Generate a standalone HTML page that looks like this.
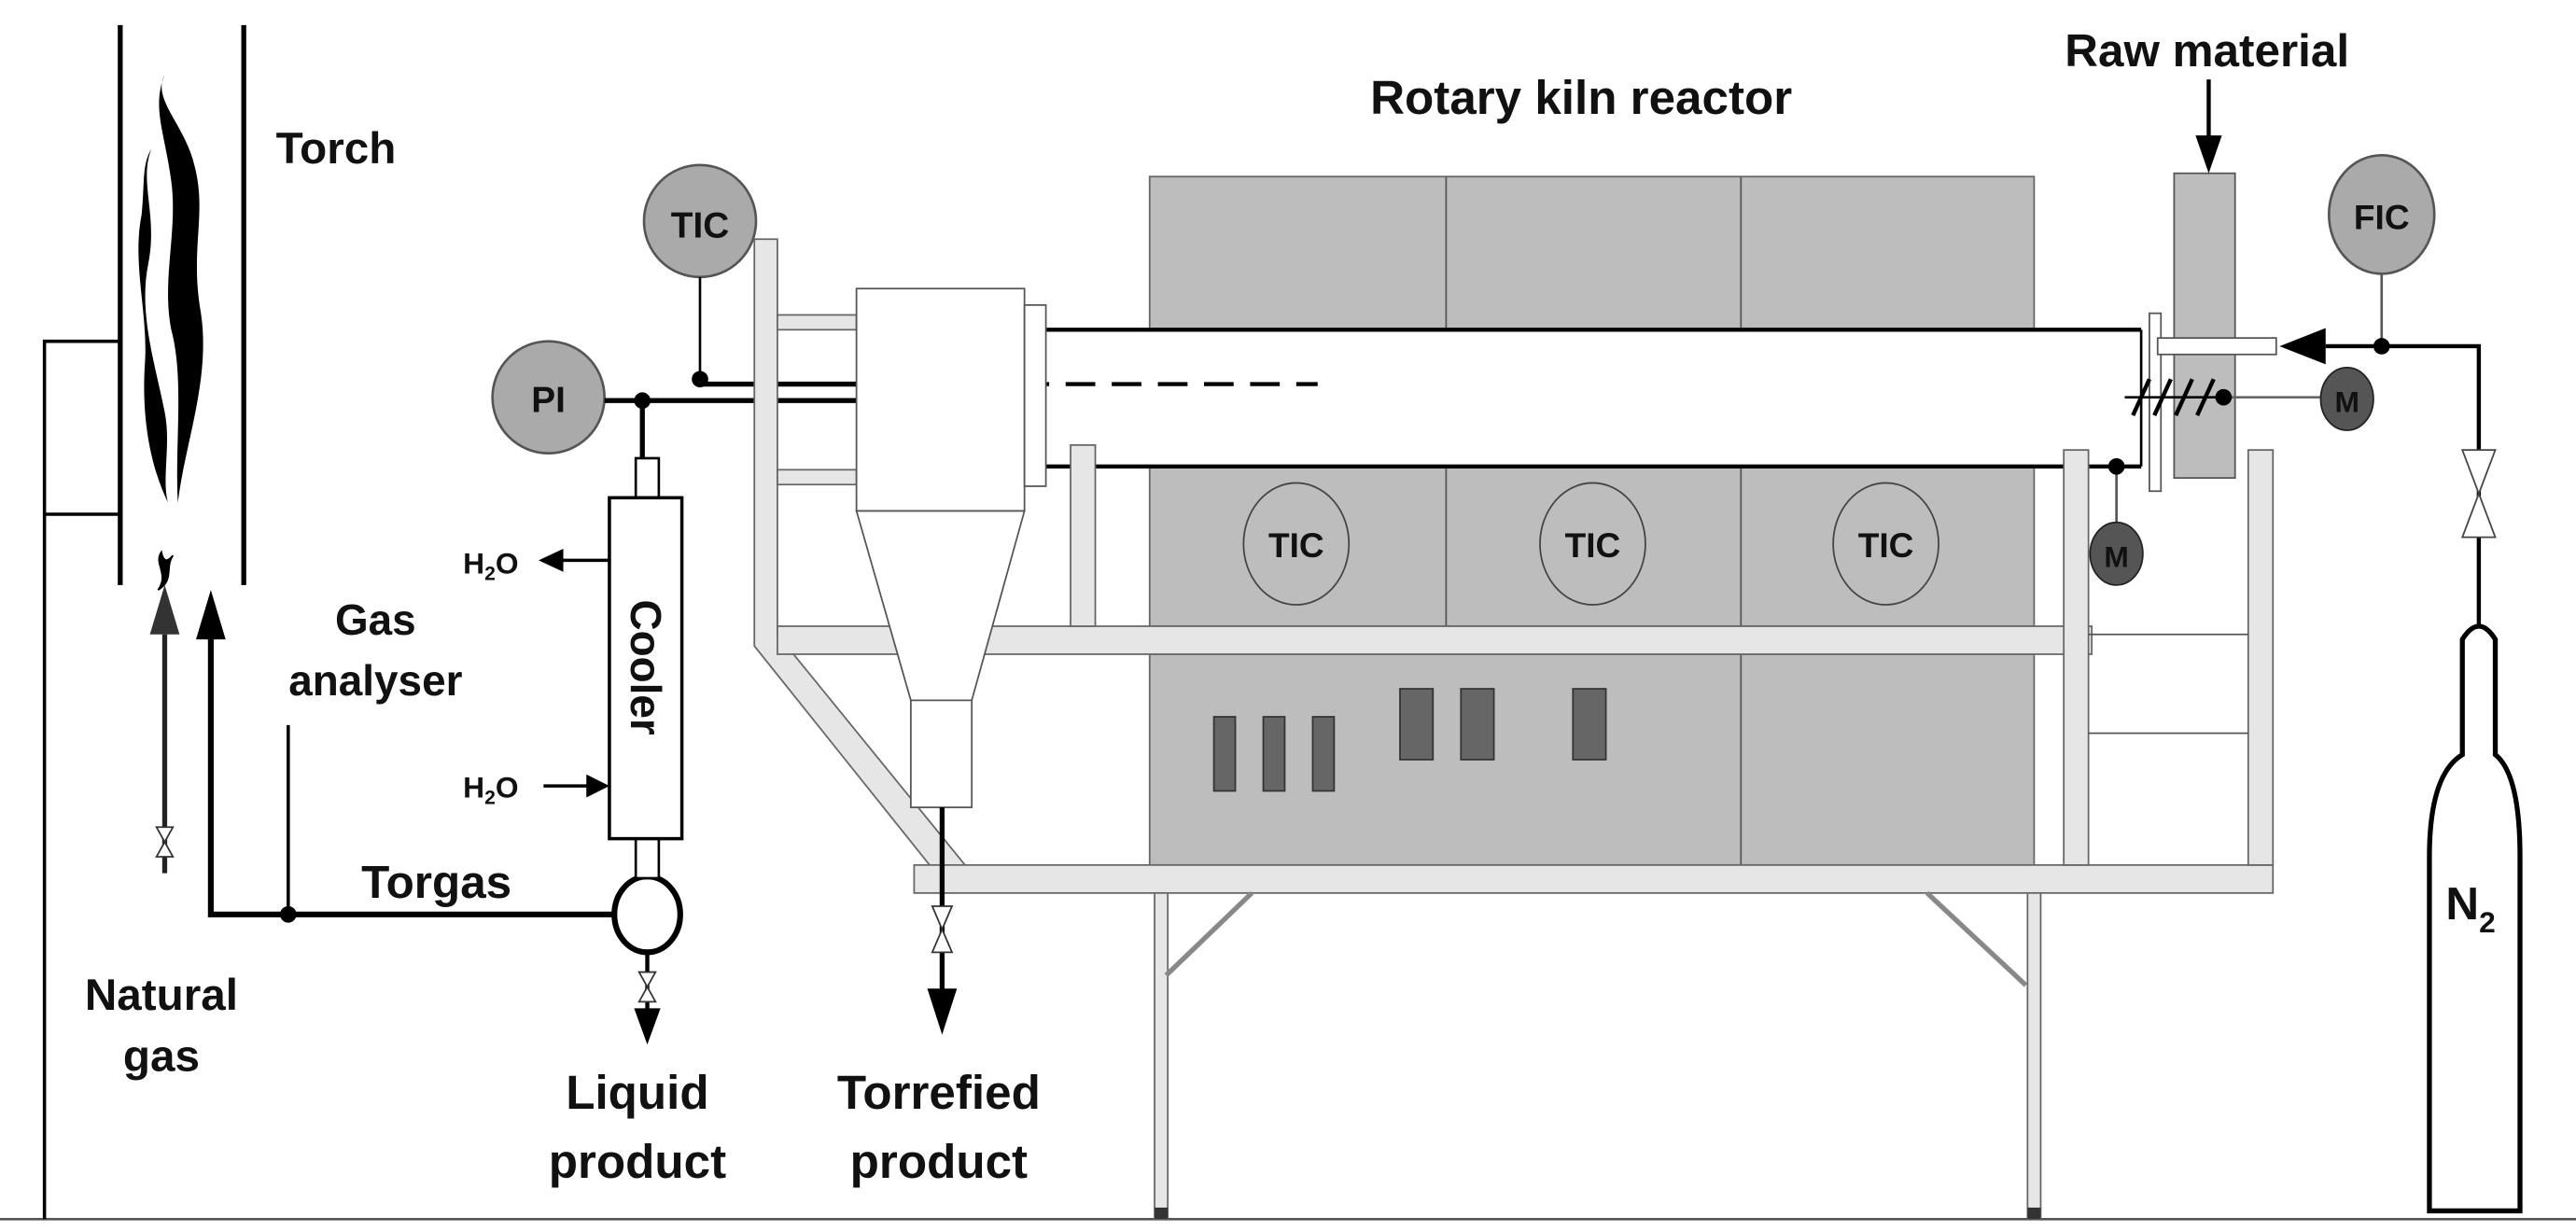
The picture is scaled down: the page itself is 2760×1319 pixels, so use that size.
<!DOCTYPE html>
<html><head><meta charset="utf-8"><style>
html,body{margin:0;padding:0;background:#fff;}
svg{display:block;}
text{font-family:"Liberation Sans",sans-serif;font-weight:bold;fill:#111;}
</style></head><body>
<svg width="2760" height="1319" viewBox="0 0 1564 747" xmlns="http://www.w3.org/2000/svg">
<!-- ground -->
<line x1="0" y1="740" x2="1564" y2="740" stroke="#555" stroke-width="1.5"/>
<!-- torch -->
<line x1="73" y1="15" x2="73" y2="355" stroke="#000" stroke-width="3"/>
<line x1="148" y1="15" x2="148" y2="355" stroke="#000" stroke-width="3"/>
<path d="M27,740 V207 H73 M27,312 H73" fill="none" stroke="#000" stroke-width="2"/>
<!-- flame -->
<path d="M100,45 C92,60 112,75 118,100 C126,130 115,150 122,190 C128,230 112,270 108,305 C106,270 112,230 104,200 C98,170 108,140 104,110 C100,80 92,65 100,45 Z" fill="#000"/>
<path d="M92,90 C84,110 96,130 90,160 C84,190 94,220 100,250 C104,270 98,290 102,305 C90,280 86,250 88,220 C90,190 80,160 86,130 C88,110 86,100 92,90 Z" fill="#000"/>
<path d="M108,110 C116,130 110,160 116,190 C120,210 112,240 114,260 C106,240 110,210 106,190 C102,160 110,140 108,110 Z" fill="#000"/>
<path d="M98,335 C93,342 103,348 96,358 C106,352 100,344 105,337 C101,342 99,340 98,335 Z" fill="#000" stroke="#000" stroke-width="1"/>
<!-- natural gas -->
<line x1="100" y1="530" x2="100" y2="385" stroke="#222" stroke-width="3"/>
<path d="M91,385 L100,355 L109,385 Z" fill="#333"/>
<path d="M95,502 L105,502 L95,520 L105,520 Z" fill="#fff" stroke="#333" stroke-width="1"/>
<text x="98" y="613" font-size="27" text-anchor="middle">Natural</text>
<text x="98" y="650" font-size="27" text-anchor="middle">gas</text>
<!-- gas analyser -->
<path d="M373,555 H128 V385" fill="none" stroke="#000" stroke-width="3.5"/>
<path d="M119,388 L128,358 L137,388 Z" fill="#000"/>
<line x1="175" y1="440" x2="175" y2="555" stroke="#000" stroke-width="2"/>
<circle cx="175" cy="555" r="5" fill="#000"/>
<text x="228" y="385" font-size="26" text-anchor="middle">Gas</text>
<text x="228" y="422" font-size="26" text-anchor="middle">analyser</text>
<text x="265" y="545" font-size="28" text-anchor="middle">Torgas</text>
<!-- separator oval -->
<ellipse cx="393" cy="555" rx="20" ry="23" fill="#fff" stroke="#000" stroke-width="3.5"/>
<line x1="393" y1="578" x2="393" y2="620" stroke="#000" stroke-width="2.5"/>
<path d="M388,590 L398,590 L388,608 L398,608 Z" fill="#fff" stroke="#333" stroke-width="1"/>
<path d="M385,612 L393,634 L401,612 Z" fill="#000"/>
<text x="387" y="673" font-size="29" text-anchor="middle">Liquid</text>
<text x="387" y="715" font-size="29" text-anchor="middle">product</text>
<!-- cooler -->
<rect x="386" y="278" width="14" height="24" fill="#fff" stroke="#000" stroke-width="1.5"/>
<rect x="386" y="509" width="14" height="24" fill="#fff" stroke="#000" stroke-width="1.5"/>
<rect x="370" y="302" width="44" height="207" fill="#fff" stroke="#000" stroke-width="2"/>
<text x="0" y="0" font-size="26" text-anchor="middle" transform="translate(383 405) rotate(90)">Cooler</text>
<line x1="370" y1="340" x2="340" y2="340" stroke="#000" stroke-width="2"/>
<path d="M342,333 L327,340 L342,347 Z" fill="#000"/>
<text x="298" y="348" font-size="18" text-anchor="middle">H<tspan font-size="12" dy="4">2</tspan><tspan dy="-4">O</tspan></text>
<line x1="330" y1="477" x2="358" y2="477" stroke="#000" stroke-width="2"/>
<path d="M356,470 L370,477 L356,484 Z" fill="#000"/>
<text x="298" y="484" font-size="18" text-anchor="middle">H<tspan font-size="12" dy="4">2</tspan><tspan dy="-4">O</tspan></text>
<!-- PI -->
<circle cx="333" cy="241" r="34" fill="#aaa" stroke="#555" stroke-width="1.5"/>
<text x="333" y="250" font-size="22" text-anchor="middle">PI</text>
<line x1="367" y1="243" x2="520" y2="243" stroke="#000" stroke-width="3"/>
<line x1="390" y1="243" x2="390" y2="278" stroke="#000" stroke-width="3"/>
<circle cx="390" cy="243" r="5" fill="#000"/>
<!-- TIC top -->
<circle cx="425" cy="134" r="34" fill="#aaa" stroke="#555" stroke-width="1.5"/>
<text x="425" y="144" font-size="22" text-anchor="middle">TIC</text>
<line x1="425" y1="168" x2="425" y2="230" stroke="#000" stroke-width="1.5"/>
<circle cx="425" cy="230" r="5" fill="#000"/>
<line x1="425" y1="233" x2="535" y2="233" stroke="#000" stroke-width="3"/>
<!-- furnace blocks -->
<rect x="698" y="107" width="537" height="93" fill="#bdbdbd" stroke="#666" stroke-width="1"/>
<line x1="878" y1="107" x2="878" y2="200" stroke="#555"/>
<line x1="1057" y1="107" x2="1057" y2="200" stroke="#555"/>
<rect x="698" y="283" width="537" height="97" fill="#bdbdbd" stroke="#666" stroke-width="1"/>
<line x1="878" y1="283" x2="878" y2="380" stroke="#555"/>
<line x1="1057" y1="283" x2="1057" y2="380" stroke="#555"/>
<rect x="698" y="397" width="537" height="128" fill="#bdbdbd" stroke="#666" stroke-width="1"/>
<line x1="1057" y1="397" x2="1057" y2="525" stroke="#555"/>
<g fill="#666" stroke="#333" stroke-width="1">
<rect x="737" y="435" width="13" height="45"/><rect x="767" y="435" width="13" height="45"/><rect x="797" y="435" width="13" height="45"/>
<rect x="850" y="418" width="20" height="43"/><rect x="887" y="418" width="20" height="43"/><rect x="955" y="418" width="20" height="43"/>
</g>
<g fill="#bdbdbd" stroke="#444" stroke-width="1">
<ellipse cx="787" cy="330" rx="32" ry="37"/><ellipse cx="967" cy="330" rx="32" ry="37"/><ellipse cx="1145" cy="330" rx="32" ry="37"/>
</g>
<text x="787" y="338" font-size="21" text-anchor="middle">TIC</text>
<text x="967" y="338" font-size="21" text-anchor="middle">TIC</text>
<text x="1145" y="338" font-size="21" text-anchor="middle">TIC</text>
<!-- kiln tube -->
<rect x="635" y="200" width="665" height="83" fill="#fff"/>
<line x1="635" y1="200" x2="1300" y2="200" stroke="#000" stroke-width="2.5"/>
<line x1="635" y1="283" x2="1300" y2="283" stroke="#000" stroke-width="2.5"/>
<line x1="1300" y1="200" x2="1300" y2="283" stroke="#000" stroke-width="1.5"/>
<line x1="535" y1="233" x2="800" y2="233" stroke="#000" stroke-width="2.5" stroke-dasharray="18,10"/>
<!-- frame -->
<g fill="#e6e6e6" stroke="#666" stroke-width="1">
<path d="M458,145 H472 V385 L590,530 L578,542 L458,392 Z"/>
<rect x="472" y="380" width="798" height="17"/>
<rect x="555" y="525" width="825" height="17"/>
<rect x="472" y="191" width="48" height="9"/>
<rect x="472" y="285" width="48" height="9"/>
<rect x="650" y="270" width="15" height="110"/>
<rect x="1253" y="273" width="15" height="252"/>
<rect x="1365" y="273" width="15" height="252"/>
<rect x="701" y="542" width="8" height="198"/>
<rect x="1231" y="542" width="8" height="198"/>
</g>
<line x1="1268" y1="385" x2="1365" y2="385" stroke="#555"/>
<line x1="1268" y1="445" x2="1365" y2="445" stroke="#555"/>
<line x1="708" y1="592" x2="760" y2="542" stroke="#888" stroke-width="3"/>
<line x1="1170" y1="542" x2="1230" y2="598" stroke="#888" stroke-width="3"/>
<rect x="701" y="733" width="8" height="7" fill="#333"/>
<rect x="1231" y="733" width="8" height="7" fill="#333"/>
<!-- cyclone -->
<g fill="#fff" stroke="#555" stroke-width="1">
<rect x="520" y="175" width="102" height="135"/>
<path d="M520,310 L622,310 L590,425 L553,425 Z"/>
<rect x="553" y="425" width="37" height="65"/>
<rect x="622" y="185" width="13" height="110"/>
</g>
<line x1="572" y1="490" x2="572" y2="605" stroke="#000" stroke-width="3"/>
<path d="M566,550 L578,550 L566,578 L578,578 Z" fill="#fff" stroke="#333" stroke-width="1"/>
<path d="M563,600 L572,628 L581,600 Z" fill="#000"/>
<text x="570" y="673" font-size="29" text-anchor="middle">Torrefied</text>
<text x="570" y="715" font-size="29" text-anchor="middle">product</text>
<text x="960" y="69" font-size="29" text-anchor="middle">Rotary kiln reactor</text>
<!-- feeder -->
<rect x="1320" y="105" width="37" height="185" fill="#bdbdbd" stroke="#555" stroke-width="1"/>
<rect x="1305" y="190" width="7" height="108" fill="#fff" stroke="#555" stroke-width="1"/>
<text x="1340" y="40" font-size="28" text-anchor="middle">Raw material</text>
<line x1="1341" y1="48" x2="1341" y2="85" stroke="#000" stroke-width="2.5"/>
<path d="M1333,82 L1341,105 L1349,82 Z" fill="#000"/>
<!-- shaft & N2 line -->
<rect x="1310" y="205" width="72" height="10" fill="#fff" stroke="#555" stroke-width="1"/>
<path d="M1412,199 L1384,210 L1412,221 Z" fill="#000"/>
<path d="M1412,210 H1505 V380" fill="none" stroke="#000" stroke-width="2.5"/>
<line x1="1446" y1="162" x2="1446" y2="210" stroke="#555" stroke-width="1.5"/>
<circle cx="1446" cy="210" r="5" fill="#000"/>
<ellipse cx="1446" cy="130" rx="32" ry="36" fill="#aaa" stroke="#555" stroke-width="1.5"/>
<text x="1446" y="139" font-size="21" text-anchor="middle">FIC</text>
<path d="M1495,273 L1515,273 L1495,326 L1515,326 Z" fill="#fff" stroke="#444" stroke-width="1"/>
<!-- cylinder -->
<path d="M1495,458 V388 Q1505,372 1515,388 V458 Q1530,470 1530,520 V735 H1475 V520 Q1475,470 1495,458 Z" fill="#fff" stroke="#000" stroke-width="3"/>
<text x="1500" y="558" font-size="28" text-anchor="middle">N<tspan font-size="18" dy="8">2</tspan></text>
<!-- motor gear -->
<g stroke="#000" stroke-width="2.5">
<line x1="1295" y1="252" x2="1305" y2="230"/><line x1="1308" y1="252" x2="1318" y2="230"/><line x1="1321" y1="252" x2="1331" y2="230"/><line x1="1334" y1="252" x2="1344" y2="230"/>
</g>
<line x1="1290" y1="241" x2="1350" y2="241" stroke="#000" stroke-width="1.5"/>
<line x1="1350" y1="241" x2="1410" y2="241" stroke="#666" stroke-width="1.5"/>
<circle cx="1350" cy="241" r="5" fill="#000"/>
<ellipse cx="1425" cy="242" rx="16" ry="19" fill="#555" stroke="#222"/>
<text x="1425" y="250" font-size="18" text-anchor="middle">M</text>
<line x1="1285" y1="283" x2="1285" y2="318" stroke="#555" stroke-width="1.5"/>
<circle cx="1285" cy="283" r="5" fill="#000"/>
<ellipse cx="1285" cy="336" rx="16" ry="19" fill="#555" stroke="#222"/>
<text x="1285" y="344" font-size="18" text-anchor="middle">M</text>
<text x="204" y="99" font-size="27" text-anchor="middle">Torch</text>
</svg>
</body></html>
